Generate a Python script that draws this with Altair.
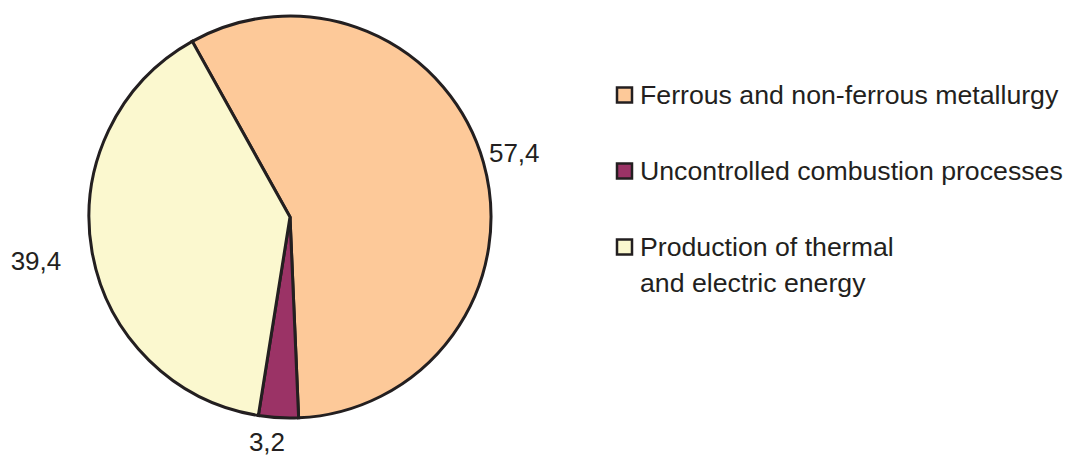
import math
import altair as alt
import pandas as pd

# Shares of emissions by source, percent
categories = [
    "Ferrous and non-ferrous metallurgy",
    "Uncontrolled combustion processes",
    "Production of thermal and electric energy",
]
legend_labels = [
    "Ferrous and non-ferrous metallurgy",
    "Uncontrolled combustion processes",
    "Production of thermal\nand electric energy",
]
shares = [57.4, 3.2, 39.4]
share_labels = ["57,4", "3,2", "39,4"]
fills = ["#FDC999", "#9B3366", "#FBF8CF"]

df = pd.DataFrame({
    "cat": categories,
    "legend": legend_labels,
    "share": shares,
    "label": share_labels,
    "order": list(range(len(categories))),
})

INK = "#231f20"
FONT = "Liberation Sans"
CX, CY, R = 290, 217, 201
start = math.radians(-29.1)
theta_scale = alt.Scale(domain=[0, 100], range=[start, start + 2 * math.pi])

order = alt.Order("order:Q")
color = alt.Color("cat:N", scale=alt.Scale(domain=categories, range=fills), legend=None)

base = alt.Chart(df)

pie = base.mark_arc(outerRadius=R, stroke=INK, strokeWidth=3).encode(
    x=alt.value(CX), y=alt.value(CY),
    theta=alt.Theta("share:Q", stack=True, scale=theta_scale),
    order=order, color=color
)

# Mid-angle of every slice, computed before any label is filtered out
mids = base.transform_window(
    cum="sum(share)", sort=[alt.SortField("order")]
).transform_calculate(mid="datum.cum - datum.share / 2")

def value_label(cat, radius, dx=0):
    return mids.transform_filter(alt.datum.cat == cat).mark_text(
        radius=radius, dx=dx, font=FONT, fontSize=26, color=INK,
        align="center", baseline="middle"
    ).encode(
        x=alt.value(CX), y=alt.value(CY),
        theta=alt.Theta("mid:Q", stack=False, scale=theta_scale),
        text="label:N"
    )

labels = (
    value_label(categories[0], 233)
    + value_label(categories[1], 226, dx=-10)
    + value_label(categories[2], 258)
)

legend_y = alt.Y("cat:N", axis=None,
                 scale=alt.Scale(type="point", domain=categories, range=[95, 247], padding=0))

legend_sq = base.mark_square(size=225, stroke=INK, strokeWidth=2.5, opacity=1).encode(
    x=alt.value(624.5), y=legend_y, color=color
)
legend_txt = base.mark_text(
    font=FONT, fontSize=26.7, color=INK, align="left", baseline="alphabetic",
    dy=9, lineBreak="\n", lineHeight=36
).encode(x=alt.value(640), y=legend_y, text="legend:N")

chart = alt.layer(pie, labels, legend_sq, legend_txt).properties(
    width=1069, height=459, padding=0, autosize="none", background="white"
).configure_view(stroke=None)

chart.save("out.html", embed_options={"renderer": "svg", "actions": False})
